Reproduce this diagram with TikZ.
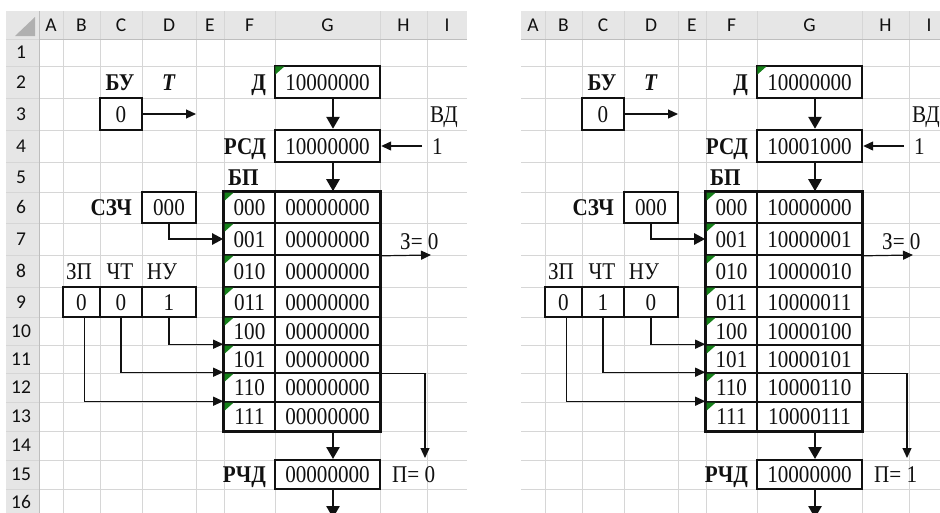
\documentclass[tikz,border=0pt]{standalone}
\usepackage{fontspec}
\setmainfont[FakeStretch=0.88]{Liberation Serif}
\newfontfamily\xlhdrfont{Carlito}
\usetikzlibrary{arrows.meta}
\definecolor{gridgray}{HTML}{D6D6D6}
\definecolor{hdrfill}{HTML}{E6E6E6}
\definecolor{hdrline}{HTML}{BEBEBE}
\definecolor{cornertri}{HTML}{B0B0B0}
\definecolor{ink}{HTML}{111111}
\definecolor{xlgreen}{HTML}{16801A}
\newcommand\xlcellfont{\fontsize{24}{26}\selectfont}
\tikzset{
  gridln/.style={draw=gridgray, line width=1pt},
  hdrtxt/.style={font=\xlhdrfont\fontsize{19.5}{20}\selectfont, text=ink, inner sep=0pt, text height=12.4pt, text depth=0pt},
  celltxt/.style={font=\xlcellfont, text=ink, inner sep=0pt, text height=16pt, text depth=0pt},
  boldtxt/.style={celltxt, font=\xlcellfont\bfseries},
  framebox/.style={draw=ink, line width=#1, celltxt},
  thinarrow/.style={draw=ink, line width=1.2pt, -{Triangle[length=10pt,width=9pt]}},
  midarrow/.style={draw=ink, line width=2.4pt, -{Triangle[length=11pt,width=11pt]}},
  thickarrow/.style={draw=ink, line width=2.6pt, -{Triangle[length=12pt,width=13pt]}},
}
% #1 prefix, #2 xshift, #3 RSD, #4 ZP, #5 CT, #6 NU, #7 P, #8 table value, #9 RCHD
\newcommand\xlpanel[9]{%
\begin{scope}[xshift=#2pt]
  \fill[hdrfill] (39,11) rectangle (467,39);
  \foreach \gx in {63,100,142,196,224,275,380,427} \draw[gridln] (\gx,11) -- (\gx,520);
  \foreach \gy in {66,98,130,162,192,223,255,287,317,345,373,402,431,460,489} \draw[gridln] (39,\gy) -- (467,\gy);
  \draw[hdrline, line width=1pt] (39,39) -- (467,39);
  \foreach \lt/\cx in {A/51,B/81.5,C/121,D/169,E/210,F/249.5,G/327.5,H/403.5,I/447}
    \node[hdrtxt] (#1-h\lt) at (\cx,25) {\lt};
  % BU and T
  \node[boldtxt] (#1-bu) at (120,82) {БУ};
  \node[boldtxt] (#1-tl) at (169,82) {\textit{T}};
  \node[framebox=2.4pt, minimum width=42pt, minimum height=32pt] (#1-tbox) at (121,114) {0};
  \coordinate (#1-tend) at (196,114);
  \draw[thinarrow] (#1-tbox.east) -- (#1-tend);
  % D and RSD
  \node[boldtxt, anchor=east] (#1-dl) at (266,82) {Д};
  \node[framebox=1.5pt, minimum width=105pt, minimum height=32pt] (#1-d) at (327.5,82) {10000000};
  \fill[xlgreen] ([shift={(1.2,1.2)}]#1-d.north west) -- ++(9,0) -- ++(-9,8) -- cycle;
  \node[celltxt, anchor=west] (#1-vd) at (430,114) {ВД};
  \node[celltxt, anchor=west] (#1-one) at (432,146) {1};
  \node[boldtxt, anchor=east] (#1-rsdl) at (266,146) {РСД};
  \node[framebox=2.4pt, minimum width=105pt, minimum height=32pt] (#1-rsd) at (327.5,146) {#3};
  \draw[thinarrow] ([xshift=-10pt]#1-one.west) -- (#1-rsd.east);
  \draw[thickarrow] ([xshift=5.5pt]#1-d.south) -- ([xshift=5.5pt]#1-rsd.north);
  % memory block
  \node[boldtxt, anchor=west] (#1-bp) at (228,177) {БП};
  \foreach \ad/\tp/\bt in {000/192/223,001/223/255,010/255/287,011/287/317,100/317/345,101/345/373,110/373/402,111/402/431} {
    \pgfmathsetmacro\hh{\bt-\tp}
    \pgfmathsetmacro\cy{(\tp+\bt)/2}
    \node[framebox=1.6pt, minimum width=51pt, minimum height=\hh pt] (#1-a\ad) at (249.5,\cy) {\ad};
    \node[framebox=1.6pt, minimum width=105pt, minimum height=\hh pt] (#1-v\ad) at (327.5,\cy) {#8};
    \fill[xlgreen] ([shift={(1.4,1.4)}]#1-a\ad.north west) -- ++(9,0) -- ++(-9,8) -- cycle;
  }
  \draw[draw=ink, line width=2.4pt] (#1-a000.north west) rectangle (#1-v111.south east);
  \draw[thickarrow] ([xshift=5.5pt]#1-rsd.south) -- ([xshift=5.5pt]#1-v000.north);
  % SZCH
  \node[boldtxt, anchor=east] (#1-szl) at (132,207.5) {СЗЧ};
  \node[framebox=2pt, minimum width=54pt, minimum height=31pt] (#1-sz) at (169,207.5) {000};
  \draw[midarrow] (#1-sz.south) |- (#1-a001.west);
  % Z
  \node[celltxt, anchor=west] (#1-z) at (400,241) {З= 0};
  \coordinate (#1-zend) at (431,255);
  \draw[thinarrow] (#1-v001.south east) -- (#1-zend);
  % ZP CT NU
  \node[celltxt] (#1-zpl) at (79,271) {ЗП};
  \node[celltxt] (#1-ctl) at (120,271) {ЧТ};
  \node[celltxt] (#1-nul) at (162,271) {НУ};
  \node[framebox=1.2pt, minimum width=37pt, minimum height=30pt] (#1-zp) at (81.5,302) {#4};
  \node[framebox=1.2pt, minimum width=42pt, minimum height=30pt] (#1-ct) at (121,302) {#5};
  \node[framebox=1.2pt, minimum width=54pt, minimum height=30pt] (#1-nu) at (169,302) {#6};
  \draw[thinarrow] ([xshift=3pt]#1-zp.south) |- (#1-a111.north west);
  \draw[thinarrow] (#1-ct.south) |- (#1-a110.north west);
  \draw[thinarrow] (#1-nu.south) |- (#1-a101.north west);
  % P
  \coordinate (#1-pend) at (425,458);
  \draw[thinarrow] (#1-v101.south east) -| (#1-pend);
  \node[celltxt, anchor=west] (#1-p) at (392,474.5) {П= #7};
  % RCHD
  \node[boldtxt, anchor=east] (#1-rcl) at (266,474.5) {РЧД};
  \node[framebox=2pt, minimum width=105pt, minimum height=29pt] (#1-rc) at (327.5,474.5) {#9};
  \draw[thickarrow] ([xshift=5.5pt]#1-v111.south) -- ([xshift=5.5pt]#1-rc.north);
  \coordinate (#1-out) at (333,518);
  \draw[thickarrow] ([xshift=5.5pt]#1-rc.south) -- (#1-out);
\end{scope}}

\begin{document}
\begin{tikzpicture}[x=1pt,y=-1pt]
\useasboundingbox (0,0) rectangle (940,512);
\fill[white] (0,0) rectangle (940,512);
\clip (0,0) rectangle (940,512);
% left row header column
\fill[hdrfill] (6,11) rectangle (39,520);
\foreach \gy in {39,66,98,130,162,192,223,255,287,317,345,373,402,431,460,489} \draw[gridln] (6,\gy) -- (39,\gy);
\fill[cornertri] (35,17) -- (35,36) -- (15,36) -- cycle;
\foreach \rn/\ry in {1/52.5,2/82,3/114,4/146,5/177,6/207.5,7/239,8/271,9/302,10/331,11/359,12/387.5,13/416.5,14/445.5,15/474.5,16/502}
  \node[hdrtxt] (rn\rn) at (21,\ry) {\rn};
\xlpanel{L}{0}{10000000}{0}{0}{1}{0}{00000000}{00000000}
\draw[hdrline, line width=1pt] (39,11) -- (39,520);
\xlpanel{R}{482}{10001000}{0}{1}{0}{1}{10000\ad}{10000000}
\end{tikzpicture}
\end{document}
